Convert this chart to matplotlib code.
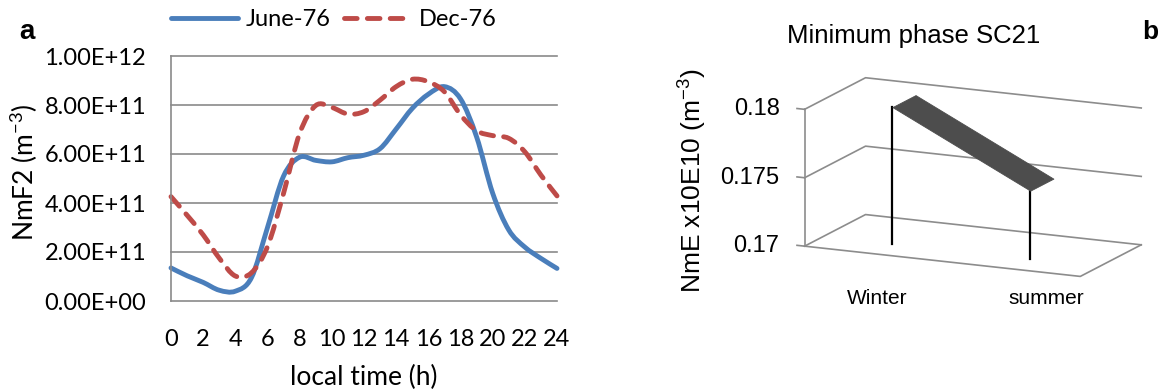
import numpy as np
import matplotlib
matplotlib.use("Agg")
import matplotlib.pyplot as plt
from matplotlib.path import Path
from matplotlib.patches import PathPatch
from matplotlib.lines import Line2D
from matplotlib.ticker import FuncFormatter
from mpl_toolkits.mplot3d import proj3d
from mpl_toolkits.mplot3d.art3d import Poly3DCollection

# ---------------- data ----------------
hours = list(range(0, 25))
june_76 = [1.35e11, 1.03e11, 0.76e11, 0.44e11, 0.40e11, 0.95e11, 3.00e11, 5.10e11,
           5.87e11, 5.74e11, 5.68e11, 5.85e11, 5.95e11, 6.22e11, 7.02e11, 7.86e11,
           8.44e11, 8.75e11, 8.25e11, 6.70e11, 4.40e11, 2.90e11, 2.20e11, 1.74e11, 1.33e11]
dec_76 = [4.26e11, 3.50e11, 2.70e11, 1.75e11, 1.02e11, 1.15e11, 2.22e11, 4.40e11,
          6.84e11, 7.98e11, 7.90e11, 7.63e11, 7.73e11, 8.20e11, 8.75e11, 9.05e11,
          8.95e11, 8.54e11, 7.60e11, 6.95e11, 6.75e11, 6.64e11, 6.09e11, 5.14e11, 4.29e11]
series_labels = ["June-76", "Dec-76"]
y_ticks_a = [0, 2e11, 4e11, 6e11, 8e11, 1e12]
x_ticks_a = list(range(0, 25, 2))

seasons = ["Winter", "summer"]
nme_sc21 = [0.1800, 0.1750]
z_ticks_b = [0.17, 0.175, 0.18]
z_tick_labels_b = ["0.17", "0.175", "0.18"]

# ---------------- figure ----------------
W, H = 1163, 391
fig = plt.figure(figsize=(W / 100, H / 100), dpi=100)
plt.rcParams["mathtext.default"] = "regular"
FA = ["Lato", "DejaVu Sans"]
FB = ["Liberation Sans", "DejaVu Sans"]


def fx(x):
    return x / W


def fy(y):
    return 1 - y / H


def smooth_path(xs, ys):
    xs = np.asarray(xs, float)
    ys = np.asarray(ys, float)
    n = len(xs)
    verts = [(xs[0], ys[0])]
    codes = [Path.MOVETO]
    for i in range(n - 1):
        i0, i3 = max(i - 1, 0), min(i + 2, n - 1)
        c1 = (xs[i] + (xs[i + 1] - xs[i0]) / 6, ys[i] + (ys[i + 1] - ys[i0]) / 6)
        c2 = (xs[i + 1] - (xs[i3] - xs[i]) / 6, ys[i + 1] - (ys[i3] - ys[i]) / 6)
        verts += [c1, c2, (xs[i + 1], ys[i + 1])]
        codes += [Path.CURVE4] * 3
    return Path(verts, codes)


# ---------------- panel a ----------------
BLUE = "#4A7EBB"
RED = "#BE4B48"
GRID = "#8a8a8a"
DASH = (0, (2.6, 2.1))

ax = fig.add_axes([fx(171), fy(301), 386 / W, 245 / H])
ax.set_xlim(0, 24)
ax.set_ylim(0, 1e12)
ax.set_xticks(x_ticks_a)
ax.set_yticks(y_ticks_a)
ax.yaxis.set_major_formatter(FuncFormatter(lambda v, p: f"{v:.2E}"))
ax.grid(axis="y", color=GRID, lw=1.2)
ax.set_axisbelow(True)
for gl in ax.get_ygridlines():
    gl.set_clip_on(False)
for s in ["top", "right", "bottom"]:
    ax.spines[s].set_visible(False)
ax.spines["left"].set_color(GRID)
ax.spines["left"].set_linewidth(1.2)
ax.tick_params(axis="both", length=0)
ax.tick_params(axis="y", pad=18)
ax.tick_params(axis="x", pad=20)
for lab in ax.get_xticklabels() + ax.get_yticklabels():
    lab.set_fontfamily(FA)
    lab.set_fontsize(17)

ax.add_patch(PathPatch(smooth_path(hours, june_76), fill=False, edgecolor=BLUE,
                       lw=3.5, joinstyle="round", capstyle="round", clip_on=False))
ax.add_patch(PathPatch(smooth_path(hours, dec_76), fill=False, edgecolor=RED,
                       lw=3.5, linestyle=DASH, capstyle="round", clip_on=False))

handles = [Line2D([], [], color=BLUE, lw=3.5, solid_capstyle="round"),
           Line2D([], [], color=RED, lw=3.5, linestyle=DASH, dash_capstyle="round")]
fig.legend(handles, series_labels, loc="center left", bbox_to_anchor=(fx(171), fy(20)),
           bbox_transform=fig.transFigure, ncol=2, frameon=False,
           prop={"family": FA, "size": 17}, handlelength=2.85, handletextpad=0.33,
           columnspacing=0.55, borderpad=0, borderaxespad=0)

fig.text(fx(364), fy(377), "local time (h)", ha="center", va="center",
         fontsize=19, family=FA)
fig.text(fx(24), fy(172), "NmF2 (m$^{-3}$)", ha="center", va="center",
         rotation=90, fontsize=19, family=FA)
fig.text(fx(27), fy(32), "a", ha="center", va="center", fontsize=20,
         fontweight="bold", family=FB)

# ---------------- panel b ----------------
S0 = 300
ax3 = fig.add_axes([fx(820), fy(350), S0 / W, S0 / H], projection="3d")
ax3.set_proj_type("ortho")
ax3.view_init(elev=13.8, azim=-65.3)
ax3.set_box_aspect((308, 148, 143))
XL = (-0.5, 1.5)
ZL = (z_ticks_b[0], z_ticks_b[-1])
ax3.set_xlim(*XL)
ax3.set_ylim(0, 1)
ax3.set_zlim(*ZL)
ax3.set_axis_off()
ax3.computed_zorder = False

GRID_B = "#8c8c8c"
for z in z_ticks_b:
    ax3.plot([XL[0], XL[0], XL[1]], [0, 1, 1], [z, z, z], color=GRID_B, lw=1.2, zorder=1)
    ax3.plot([XL[0] - 0.055, XL[0]], [0, 0], [z, z], color=GRID_B, lw=1.2, zorder=1)
ax3.plot([XL[0], XL[0]], [0, 0], list(ZL), color=GRID_B, lw=1.2, zorder=1)
ax3.plot([XL[0], XL[1], XL[1]], [0, 0, 1], [ZL[0]] * 3, color=GRID_B, lw=1.2, zorder=1)

y0, y1 = 0.31, 0.69
cats = np.arange(len(seasons))
for i, v in zip(cats, nme_sc21):
    ax3.plot([i, i], [y0, y0], [v, ZL[0]], color="black", lw=1.6, zorder=2)
verts = []
for i in range(len(cats) - 1):
    verts.append([(cats[i], y0, nme_sc21[i]), (cats[i], y1, nme_sc21[i]),
                  (cats[i + 1], y1, nme_sc21[i + 1]), (cats[i + 1], y0, nme_sc21[i + 1])])
ribbon = Poly3DCollection(verts, facecolors="#4d4d4d", edgecolors="#4d4d4d", linewidths=0.6)
ribbon.set_zorder(3)
ax3.add_collection3d(ribbon)

# calibrate the 3D box onto the reference geometry
corners = [(XL[0], 0, ZL[0]), (XL[0], 1, ZL[0]), (XL[1], 1, ZL[0]), (XL[1], 0, ZL[0]),
           (XL[0], 0, ZL[1]), (XL[0], 1, ZL[1]), (XL[1], 1, ZL[1])]
targets = np.array([(805, 248), (867, 209), (1133, 236), (1097, 283),
                    (800, 112), (863, 86), (1138, 103)], float)
targets[:, 1] = H - targets[:, 1]


def project(x, y, z):
    xs, ys, _z = proj3d.proj_transform(x, y, z, ax3.get_proj())
    return ax3.transData.transform((xs, ys))


for _ in range(3):
    fig.canvas.draw()
    P = np.array([project(*cn) for cn in corners])
    pos = ax3.get_position(original=True)
    c = np.array([(pos.x0 + pos.x1) / 2 * W, (pos.y0 + pos.y1) / 2 * H])
    Pm, Tm = P.mean(0), targets.mean(0)
    s = ((P - Pm) * (targets - Tm)).sum() / ((P - Pm) ** 2).sum()
    cn_ = Tm - s * (Pm - c)
    size = pos.width * W * s
    ax3.set_position([(cn_[0] - size / 2) / W, (cn_[1] - size / 2) / H, size / W, size / H])
fig.canvas.draw()

# value tick labels next to the front edge of the side wall
for z, lab in zip(z_ticks_b, z_tick_labels_b):
    dx, dy = project(XL[0], 0, z)
    fig.text((dx - 25) / W, dy / H, lab, ha="right", va="center", fontsize=17, family=FB)
# category labels under the floor
cat_label_x = [877, 1046]
for xp, lab in zip(cat_label_x, seasons):
    fig.text(fx(xp), fy(298), lab, ha="center", va="center", fontsize=15, family=FB)

fig.text(fx(914), fy(36), "Minimum phase SC21", ha="center", va="center",
         fontsize=18.5, family=FB)
fig.text(fx(693), fy(181), "NmE x10E10 (m$^{-3}$)", ha="center", va="center",
         rotation=90, fontsize=19, family=FB)
fig.text(fx(1150), fy(32), "b", ha="center", va="center", fontsize=19,
         fontweight="bold", family=FB)

fig.savefig("out.png", dpi=100)
